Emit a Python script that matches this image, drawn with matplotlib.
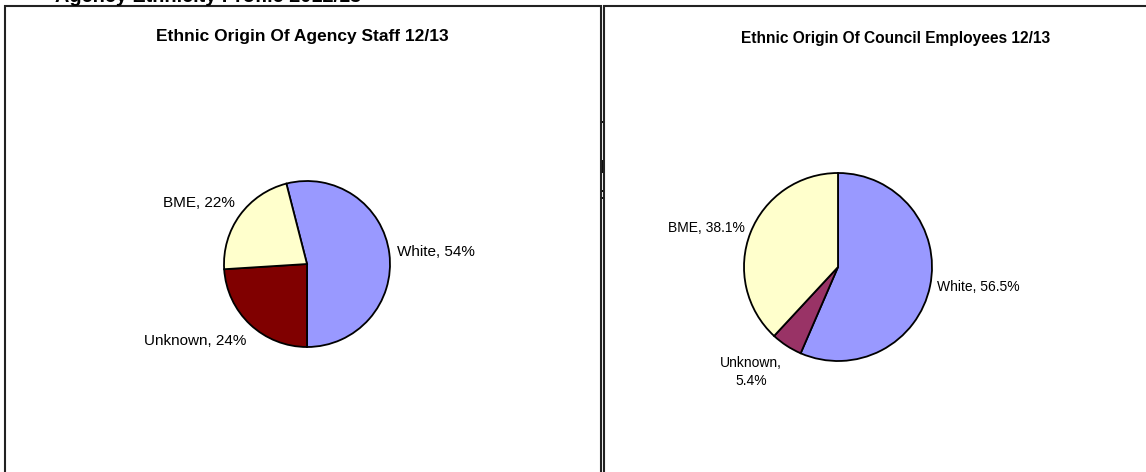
import matplotlib
matplotlib.use("Agg")
import matplotlib.pyplot as plt
from matplotlib.patches import Rectangle

plt.rcParams['font.family'] = ['Liberation Sans', 'DejaVu Sans']

# ---- data ----
page_title = "Agency Ethnicity Profile 2012/13"

left_title = "Ethnic Origin Of Agency Staff 12/13"
left_categories = ["White", "Unknown", "BME"]
left_values = [54, 24, 22]
left_colors = ["#9999FF", "#800000", "#FFFFCC"]

right_title = "Ethnic Origin Of Council Employees 12/13"
right_categories = ["White", "Unknown", "BME"]
right_values = [56.5, 5.4, 38.1]
right_colors = ["#9999FF", "#993366", "#FFFFCC"]

W, H = 1146, 472
fig = plt.figure(figsize=(W / 100, H / 100), dpi=100)
ax = fig.add_axes([0, 0, 1, 1])

def Y(y):  # pixel-from-top -> data y
    return H - y

# page title (cut off at top, as in the reference)
ax.text(55, Y(1.5), page_title, fontsize=14.3, fontweight='bold',
        ha='left', va='baseline')

# panel borders
bc = '#222222'
blw = 1.5
ax.plot([5, 5, 601, 601], [Y(480), Y(6), Y(6), Y(480)], color=bc, lw=blw,
        solid_joinstyle='miter')
ax.plot([604, 604, 1160], [Y(480), Y(6), Y(6)], color=bc, lw=blw,
        solid_joinstyle='miter')

# small artifacts of hidden chart between panels
for (x0, y0, w, h) in [(600, 121, 3, 2), (600, 160, 3, 13), (600, 190, 3, 2), (600, 197, 3, 2)]:
    ax.add_patch(Rectangle((x0, Y(y0 + h)), w, h, color='#111111', lw=0))

# left pie
ax.pie(left_values, colors=left_colors, center=(307, Y(264)), radius=83,
       startangle=104.4, counterclock=False, normalize=True,
       wedgeprops=dict(edgecolor='black', linewidth=1.3))
# right pie
ax.pie(right_values, colors=right_colors, center=(838, Y(267)), radius=94,
       startangle=90, counterclock=False, normalize=True,
       wedgeprops=dict(edgecolor='black', linewidth=1.3))

# titles
ax.text(302, Y(37), left_title, fontsize=12.5, fontweight='bold', ha='center', va='center')
ax.text(896, Y(38), right_title, fontsize=11.2, fontweight='bold', ha='center', va='center')

# left labels
lpos = [(436, 252), (195, 341), (199, 203)]
for cat, v, (x, y) in zip(left_categories, left_values, lpos):
    ax.text(x, Y(y), f"{cat}, {v:g}%", fontsize=11, ha='center', va='center')

# right labels
rlabels = [f"{right_categories[0]}, {right_values[0]:g}%",
           f"{right_categories[1]},\n{right_values[1]:g}%",
           f"{right_categories[2]}, {right_values[2]:g}%"]
rpos = [(978, 287), (751, 372), (706, 228)]
for lab, (x, y) in zip(rlabels, rpos):
    ax.text(x, Y(y), lab, fontsize=10, ha='center', va='center', linespacing=1.35)

ax.set_xlim(0, W)
ax.set_ylim(0, H)
ax.set_aspect('auto')
ax.axis('off')

fig.savefig("out.png", dpi=100)
